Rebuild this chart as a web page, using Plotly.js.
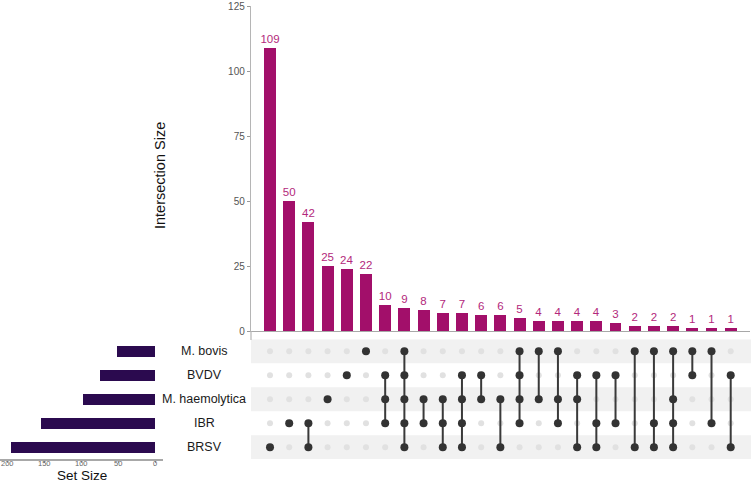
<!DOCTYPE html>
<html>
<head>
<meta charset="utf-8">
<script src="https://cdn.plot.ly/plotly-3.0.1.min.js"></script>
<style>html,body{margin:0;padding:0;background:#fff;}#chart{width:751px;height:484px;}</style>
</head>
<body>
<div id="chart"></div>
<script>
// ---- data ----
const setNames = ['M. bovis', 'BVDV', 'M. haemolytica', 'IBR', 'BRSV'];
const setSizes = [52, 74, 97, 154, 195];
const intersectionSizes = [109, 50, 42, 25, 24, 22, 10, 9, 8, 7, 7, 6, 6, 5, 4, 4, 4, 4, 3, 2, 2, 2, 1, 1, 1];
const intersectionSets = [
  ['BRSV'],
  ['IBR'],
  ['IBR', 'BRSV'],
  ['M. haemolytica'],
  ['BVDV'],
  ['M. bovis'],
  ['BVDV', 'M. haemolytica', 'IBR'],
  ['M. bovis', 'BVDV', 'M. haemolytica', 'IBR', 'BRSV'],
  ['M. haemolytica', 'IBR'],
  ['M. haemolytica', 'IBR', 'BRSV'],
  ['BVDV', 'M. haemolytica', 'IBR', 'BRSV'],
  ['BVDV', 'M. haemolytica'],
  ['M. haemolytica', 'BRSV'],
  ['M. bovis', 'BVDV', 'M. haemolytica', 'IBR'],
  ['M. bovis', 'M. haemolytica'],
  ['M. bovis', 'M. haemolytica', 'IBR'],
  ['BVDV', 'M. haemolytica', 'BRSV'],
  ['BVDV', 'IBR', 'BRSV'],
  ['BVDV', 'IBR'],
  ['M. bovis', 'BRSV'],
  ['M. bovis', 'IBR', 'BRSV'],
  ['M. bovis', 'M. haemolytica', 'IBR', 'BRSV'],
  ['M. bovis', 'BVDV'],
  ['M. bovis', 'IBR'],
  ['BVDV', 'BRSV']
];
const setTicks = [0, 50, 100, 150, 200];
const sizeTicks = [0, 25, 50, 75, 100, 125];

// ---- derived ----
const nSets = setNames.length;
const rowOf = name => nSets - 1 - setNames.indexOf(name); // BRSV at bottom
const cols = intersectionSizes.map((_, i) => i);

const inX = [], inY = [], actX = [], actY = [], lnX = [], lnY = [];
intersectionSets.forEach((members, i) => {
  const rows = members.map(rowOf);
  for (let r = 0; r < nSets; r++) {
    if (rows.indexOf(r) < 0) { inX.push(i); inY.push(r); }
  }
  rows.forEach(r => { actX.push(i); actY.push(r); });
  if (rows.length > 1) {
    lnX.push(i, i, null);
    lnY.push(Math.min(...rows), Math.max(...rows), null);
  }
});

const barColor = '#A20F6A';
const font = 'Arial, "Liberation Sans", sans-serif';

const traces = [
  {
    type: 'bar', x: cols, y: intersectionSizes, xaxis: 'x', yaxis: 'y',
    marker: {color: barColor}, width: 0.62,
    text: intersectionSizes.map(String), textposition: 'outside', cliponaxis: false,
    constraintext: 'none',
    textfont: {color: '#B3287C', size: 11.5, family: font},
    hoverinfo: 'skip'
  },
  {
    type: 'scatter', mode: 'markers', x: inX, y: inY, xaxis: 'x', yaxis: 'y2',
    marker: {color: '#E1E1E1', size: 6}, hoverinfo: 'skip'
  },
  {
    type: 'scatter', mode: 'lines', x: lnX, y: lnY, xaxis: 'x', yaxis: 'y2',
    line: {color: '#3A3A3A', width: 2}, connectgaps: false, hoverinfo: 'skip'
  },
  {
    type: 'scatter', mode: 'markers', x: actX, y: actY, xaxis: 'x', yaxis: 'y2',
    marker: {color: '#333333', size: 8}, hoverinfo: 'skip'
  },
  {
    type: 'bar', orientation: 'h', x: setSizes, y: setNames.map(rowOf), xaxis: 'x3', yaxis: 'y2',
    marker: {color: '#2B0A4F'}, width: 0.46, hoverinfo: 'skip'
  }
];

const shapes = [];
setNames.forEach((name, k) => {
  if (k % 2 === 0) {
    const r = rowOf(name);
    shapes.push({type: 'rect', xref: 'paper', yref: 'y2', x0: 251/751, x1: 1, y0: r - 0.5, y1: r + 0.5,
      fillcolor: '#F1F1F1', line: {width: 0}, layer: 'below'});
  }
});
// y axis line extension below zero (ggplot style)
shapes.push({type: 'line', xref: 'paper', yref: 'paper', x0: 251/751, x1: 251/751,
  y0: (484-340)/484, y1: (484-331)/484, line: {color: '#B5B5B5', width: 1.2}});

const annotations = setNames.map(name => ({
  xref: 'paper', yref: 'y2', x: 204/751, y: rowOf(name), text: name, showarrow: false,
  xanchor: 'center', yanchor: 'middle', font: {size: 12.5, color: '#1a1a1a', family: font}
}));
// set size tick labels placed on the x3 scale
setTicks.forEach(v => annotations.push({
  xref: 'x3', yref: 'paper', x: v, y: (484-463.8)/484, text: String(v), showarrow: false,
  xanchor: 'center', yanchor: 'middle', font: {size: 7.5, color: '#666', family: font},
  borderpad: 0
}));
annotations.push({
  xref: 'paper', yref: 'paper', x: 160/751, y: (484-176)/484, text: 'Intersection Size',
  textangle: -90, showarrow: false, xanchor: 'center', yanchor: 'middle',
  font: {size: 14.5, color: '#111', family: font}
});
annotations.push({
  xref: 'paper', yref: 'paper', x: 82/751, y: 0, text: 'Set Size',
  showarrow: false, xanchor: 'center', yanchor: 'bottom', borderpad: 0,
  font: {size: 13.5, color: '#111', family: font}
});

const layout = {
  width: 751, height: 484,
  margin: {l: 0, r: 0, t: 0, b: 0},
  paper_bgcolor: '#fff', plot_bgcolor: 'rgba(0,0,0,0)',
  showlegend: false, bargap: 0,
  font: {family: font},
  xaxis: {domain: [251/751, 750/751], range: [-0.99, 25.005], anchor: 'y',
    showticklabels: false, ticks: '', showgrid: false, zeroline: false,
    showline: true, linecolor: '#A8A8A8', linewidth: 1.2, fixedrange: true},
  yaxis: {domain: [(484-331)/484, (484-6)/484], range: [0, 125], anchor: 'x',
    tickvals: sizeTicks, ticktext: sizeTicks.map(String), ticks: 'outside', ticklen: 3,
    tickcolor: '#999', tickfont: {size: 10, color: '#555', family: font},
    showgrid: false, zeroline: false, showline: true, linecolor: '#B5B5B5', linewidth: 1.2,
    fixedrange: true},
  yaxis2: {domain: [(484-459.3)/484, (484-339.3)/484], range: [-0.5, 4.5], anchor: 'x3',
    showticklabels: false, ticks: '', showgrid: false, zeroline: false, showline: false, fixedrange: true},
  xaxis3: {domain: [0, 163/751], range: [210.2, -10.8], anchor: 'y2',
    tickvals: setTicks, showticklabels: false, ticks: 'outside', ticklen: 2,
    tickcolor: '#999',
    showgrid: false, zeroline: false, showline: true, linecolor: '#A8A8A8', linewidth: 1.2,
    fixedrange: true},
  shapes: shapes,
  annotations: annotations,
  hovermode: false
};

Plotly.newPlot('chart', traces, layout, {displayModeBar: false, staticPlot: true});
</script>
</body>
</html>
